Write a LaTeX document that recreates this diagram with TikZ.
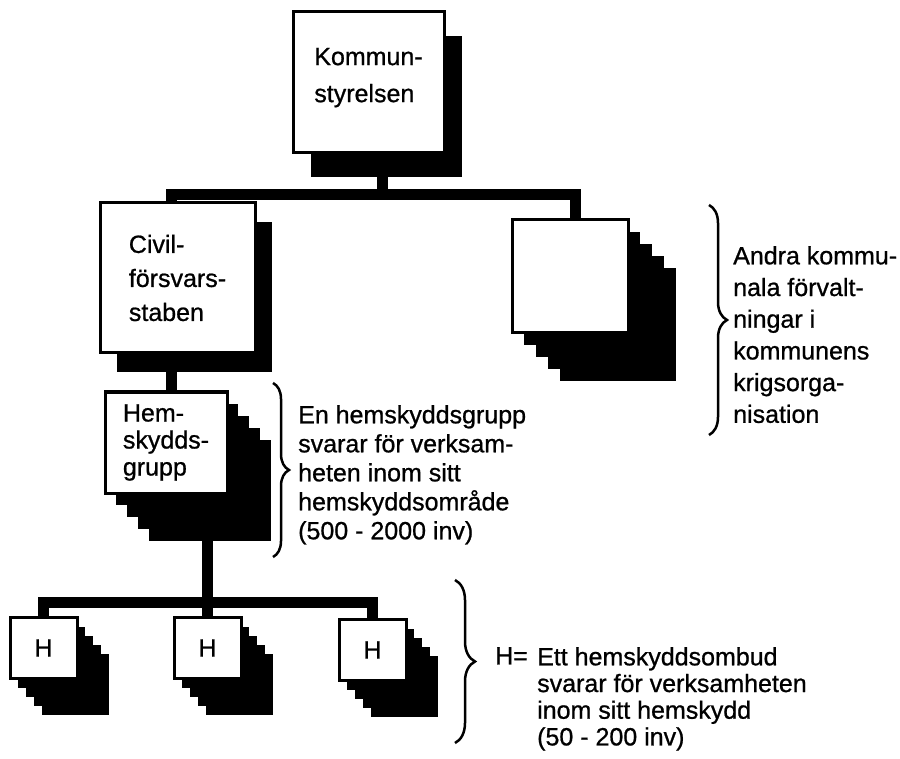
\documentclass[tikz,border=0pt]{standalone}
\usepackage{fontspec}
\setmainfont{Liberation Sans}[FakeBold=0.8]
\usetikzlibrary{shadows,backgrounds,decorations.pathreplacing}

\begin{document}
\begin{tikzpicture}[x=1pt, y=-1pt,
    orgbox/.style={draw, line width=3pt, fill=white, inner sep=0pt, align=left},
    lone shadow/.style 2 args={general shadow={fill=black, shadow xshift=#1, shadow yshift=-#2}},
    pile shadow/.style 2 args={
        general shadow={fill=black, shadow xshift=4*#1, shadow yshift=-4*#2},
        general shadow={fill=black, shadow xshift=3*#1, shadow yshift=-3*#2},
        general shadow={fill=black, shadow xshift=2*#1, shadow yshift=-2*#2},
        general shadow={fill=black, shadow xshift=#1, shadow yshift=-#2}},
    link/.style={line width=11pt},
    note/.style={align=left, inner sep=0pt, anchor=north west},
    curly/.style={decorate, decoration={brace, amplitude=#1}, line width=2.5pt},
    hbox/.style={orgbox, pile shadow={8pt}{9pt}, minimum width=67pt, minimum height=61pt, font=\fontsize{25}{30}\selectfont}]

    \useasboundingbox (0,0) rectangle (900,759);

    % Boxes of the organisation
    \node[orgbox, lone shadow={18pt}{24pt}, minimum width=151pt, minimum height=141pt,
          font=\fontsize{25}{37}\selectfont] (kommun) at (368.5,82.5) {Kommun-\\styrelsen\\[-22pt]};
    \node[orgbox, lone shadow={17pt}{19pt}, minimum width=155pt, minimum height=150pt,
          font=\fontsize{25}{34}\selectfont] (civil) at (177.5,278) {Civil-\\försvars-\\staben};
    \node[orgbox, pile shadow={12pt}{12pt}, minimum width=116pt, minimum height=113pt] (andra) at (570,276.5) {};
    \node[orgbox, pile shadow={11pt}{12pt}, minimum width=122pt, minimum height=101pt,
          font=\fontsize{25}{27}\selectfont] (hem) at (166,442.5) {Hem-\\skydds-\\grupp};

    % The three H boxes
    \node[hbox] (h1) at (43.5,648) {H};
    \node[hbox] (h2) at (207.5,648) {H};
    \node[hbox] (h3) at (372.5,650) {H};

    % White page and connectors, behind the boxes
    \begin{pgfonlayer}{background}
        \fill[white] (0,0) rectangle (900,759);
        \draw[link] ([xshift=13.5pt]kommun.south) -- ++(0,40) coordinate (fork);
        \draw[link] ([xshift=-6.5pt]civil.north) |- (fork) -| ([xshift=5pt]andra.north);
        \draw[link] ([xshift=5pt]hem.north) -- ([xshift=5pt]hem.north |- civil.south);
        \draw[link] (h2.north) -- (h2.north |- hem.south);
        \draw[link] (h1.north) -- ++(0,-14) -| (h3.north);
    \end{pgfonlayer}

    % Braces and notes
    \draw[curly=18pt] (709,205) -- (709,435);
    \draw[curly=16pt] (273,383) -- (273,557);
    \draw[curly=20pt] (455,580) -- (455,743);

    \node[note, font=\fontsize{25}{31.7}\selectfont] (andranote) at (733,246)
        {Andra kommu-\\nala förvalt-\\ningar i\\kommunens\\krigsorga-\\nisation};
    \node[note, font=\fontsize{25}{29}\selectfont] (hemnote) at (298,405)
        {En hemskyddsgrupp\\svarar för verksam-\\heten inom sitt\\hemskyddsområde\\(500 - 2000 inv)};
    \node[note, font=\fontsize{25}{26.7}\selectfont] (hkey) at (495,647) {H=};
    \node[note, font=\fontsize{25}{26.7}\selectfont] (hnote) at (537,647)
        {Ett hemskyddsombud\\svarar för verksamheten\\inom sitt hemskydd\\(50 - 200 inv)};
\end{tikzpicture}
\end{document}
